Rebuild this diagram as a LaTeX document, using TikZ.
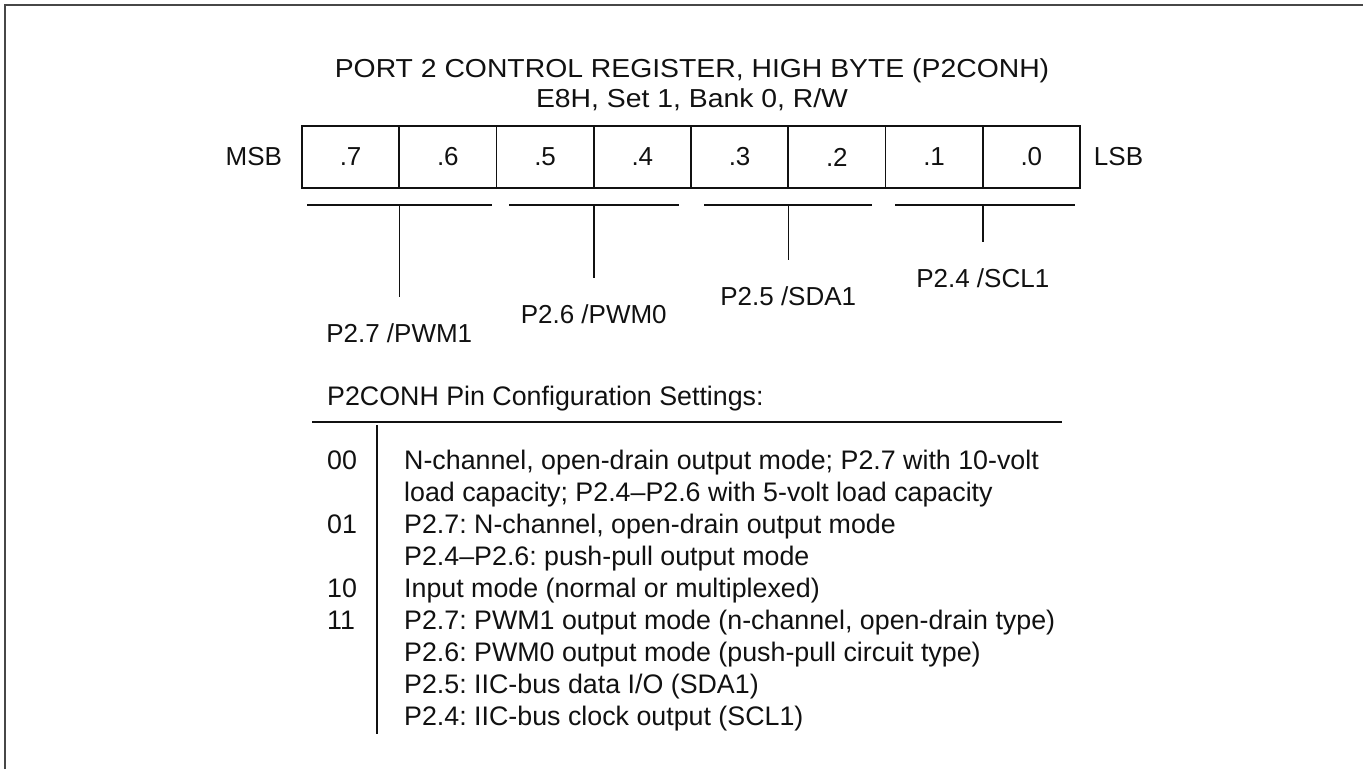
\documentclass[tikz,border=0pt]{standalone}
\usepackage{fontspec}
\setmainfont{Liberation Sans}
\newfontfamily\widefamily[FakeStretch=1.09]{Liberation Sans}
\usetikzlibrary{positioning,calc}
\definecolor{ink}{HTML}{111111}
\definecolor{framegray}{HTML}{474747}
\newcommand{\regfont}{\fontsize{26}{32}\selectfont}
\newcommand{\headfont}{\widefamily\fontsize{26}{32}\selectfont}
\newcommand{\listfont}{\fontsize{26.8}{32}\selectfont}
\tikzset{
 every node/.append style={font=\regfont,text=ink,inner sep=0pt},
 cell/.style={draw=ink,line width=1.6pt,minimum width=97.25pt,minimum height=62pt},
 bar/.style={draw=ink,line width=1.6pt},
 tick/.style={draw=ink,line width=1.5pt,shorten >=26pt},
 heading/.style={anchor=base,font=\headfont},
 pinlabel/.style={anchor=base},
 rowtext/.style={anchor=base west,font=\listfont},
 frameline/.style={draw=framegray,line width=2.2pt},
}

\begin{document}
\frenchspacing
\begin{tikzpicture}[x=1pt,y=-1pt]
\useasboundingbox (0,0) rectangle (1363,769);
\draw[frameline] (5,769) -- (5,5) -- (1363,5);

\node[heading] (title) at (692,77.5) {PORT 2 CONTROL REGISTER, HIGH BYTE (P2CONH)};
\node[heading] (addr) at (692,107.5) {E8H, Set 1, Bank 0, R/W};

\foreach \b [count=\i from 0] in {7,6,5,4,3,2,1,0}
  \node[cell] (c\b) at (350.6+97.25*\i,157) {.\b};
\node[anchor=east] (msb) at ([xshift=-19pt]c7.west) {MSB};
\node[anchor=west] (lsb) at ([xshift=13pt]c0.east) {LSB};

\foreach \hi/\x/\l/\r/\base/\txt in {7/399.25/307/492/342/{P2.7 /PWM1},
  5/593.75/509/679/323.5/{P2.6 /PWM0},
  3/788.25/704/872/305/{P2.5 /SDA1},
  1/982.75/895/1075/287/{P2.4 /SCL1}}
{
  \draw[bar] (\l,205) -- (\r,205);
  \coordinate (j\hi) at (\x,205);
  \node[pinlabel] (p\hi) at (\x,\base) {\txt};
  \draw[tick] (j\hi) -- (p\hi.north);
}

\node[rowtext] (settings) at (327,405) {P2CONH Pin Configuration Settings:};
\coordinate (ruleL) at (312,422);
\coordinate (ruleR) at (1062,422);
\draw[bar] (ruleL) -- (ruleR);
\coordinate (colT) at (377,425);
\coordinate (colB) at (377,734);
\draw[bar] (colT) -- (colB);

\foreach \code/\desc [count=\r from 0] in {
  00/{N-channel, open-drain output mode; P2.7 with 10-volt},
  {}/{load capacity; P2.4--P2.6 with 5-volt load capacity},
  01/{P2.7: N-channel, open-drain output mode},
  {}/{P2.4--P2.6: push-pull output mode},
  10/{Input mode (normal or multiplexed)},
  11/{P2.7: PWM1 output mode (n-channel, open-drain type)},
  {}/{P2.6: PWM0 output mode (push-pull circuit type)},
  {}/{P2.5: IIC-bus data I/O (SDA1)},
  {}/{P2.4: IIC-bus clock output (SCL1)}}
{
  \node[rowtext] (code\r) at (327,469+32*\r) {\code};
  \node[rowtext] (desc\r) at (404,469+32*\r) {\desc};
}

\end{tikzpicture}
\end{document}
